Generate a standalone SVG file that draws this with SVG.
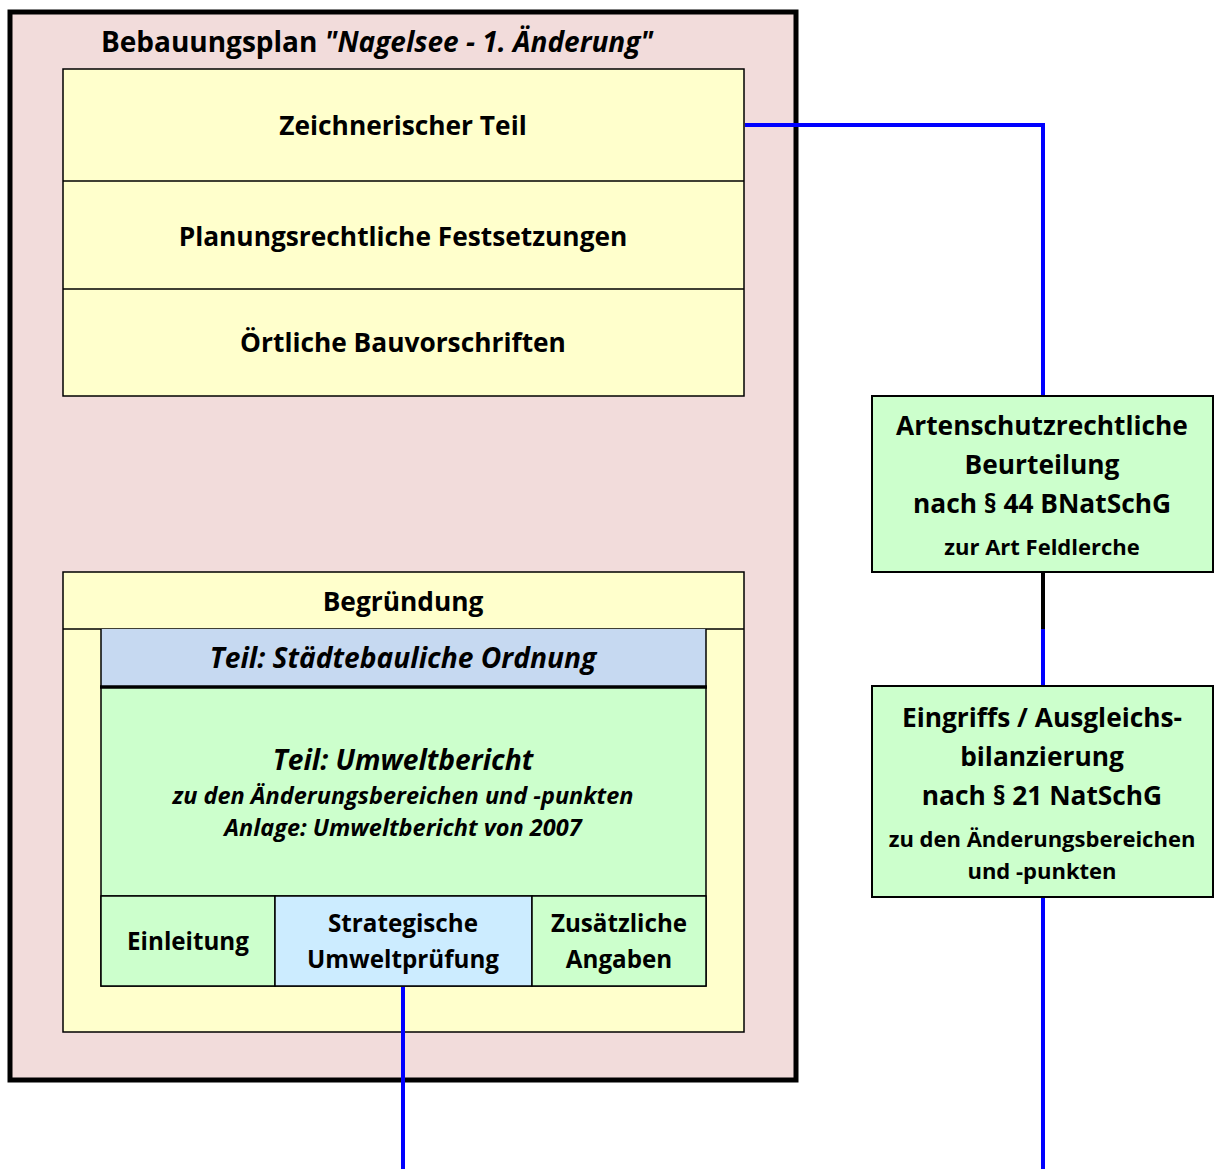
<svg xmlns="http://www.w3.org/2000/svg" width="1215" height="1169" viewBox="0 0 1215 1169">
<style>
text{font-family:"Open Sans","Noto Sans","Liberation Sans",sans-serif;font-weight:bold;text-anchor:middle;fill:#000}
.it{font-style:italic}
.big{font-size:26.3px}
.ttl{font-size:28px}
.bi{font-size:28.2px;font-style:italic}
.med{font-size:24.2px}
.sm{font-size:22px}
.smi{font-size:23.5px;font-style:italic}
.yel{fill:#FFFFCC;stroke:#000;stroke-width:1.5}
.grn{fill:#CCFFCC;stroke:#000;stroke-width:2}
.line{fill:none;stroke:#000;stroke-width:1.5}
.conn{fill:none;stroke:#0000FF;stroke-width:4}
</style>
<g id="frame">
<rect x="10" y="12" width="786" height="1068" fill="#F2DCDB" stroke="#000" stroke-width="5"/>
<text x="377" y="52" class="ttl">Bebauungsplan <tspan class="it">"Nagelsee - 1. Änderung"</tspan></text>
</g>
<g id="plan">
<rect x="63" y="69" width="681" height="327" class="yel"/>
<line x1="63" y1="181" x2="744" y2="181" class="line"/>
<line x1="63" y1="289" x2="744" y2="289" class="line"/>
</g>
<g id="zeichnerisch"><text x="403" y="135" class="big">Zeichnerischer Teil</text></g>
<g id="festsetzungen"><text x="403" y="246" class="big">Planungsrechtliche Festsetzungen</text></g>
<g id="bauvorschriften"><text x="403" y="352" class="big">Örtliche Bauvorschriften</text></g>
<g id="begruendung">
<rect x="63" y="572" width="681" height="460" class="yel"/>
<line x1="63" y1="629" x2="744" y2="629" class="line"/>
<text x="403" y="611" class="big">Begründung</text>
</g>
<g id="staedtebau">
<rect x="101" y="629" width="605" height="58" fill="#C6D9F1"/>
<line x1="101" y1="629" x2="101" y2="687" class="line"/>
<line x1="706" y1="629" x2="706" y2="687" class="line"/>
<text x="403" y="668" class="bi">Teil: Städtebauliche Ordnung</text>
</g>
<g id="umweltbericht">
<rect x="101" y="687" width="605" height="299" fill="#CCFFCC" stroke="#000" stroke-width="1.5"/>
<line x1="100" y1="687" x2="707" y2="687" stroke="#000" stroke-width="3.5"/>
<text x="403" y="770" class="bi">Teil: Umweltbericht</text>
<text x="403" y="804" class="smi">zu den Änderungsbereichen und -punkten</text>
<text x="403" y="836" class="smi">Anlage: Umweltbericht von 2007</text>
<line x1="101" y1="896" x2="706" y2="896" class="line"/>
</g>
<g id="einleitung">
<rect x="101" y="896" width="174" height="90" fill="#CCFFCC" stroke="#000" stroke-width="1.5"/>
<text x="188" y="950" class="med">Einleitung</text>
</g>
<g id="sup">
<rect x="275" y="896" width="257" height="90" fill="#CCECFF" stroke="#000" stroke-width="1.5"/>
<text x="403" y="932" class="med">Strategische</text>
<text x="403" y="968" class="med">Umweltprüfung</text>
</g>
<g id="zusaetzlich">
<rect x="532" y="896" width="174" height="90" fill="#CCFFCC" stroke="#000" stroke-width="1.5"/>
<text x="619" y="932" class="med">Zusätzliche</text>
<text x="619" y="968" class="med">Angaben</text>
</g>
<g id="artenschutz">
<rect x="872" y="396" width="341" height="176" class="grn"/>
<text x="1042" y="435" class="big">Artenschutzrechtliche</text>
<text x="1042" y="474" class="big">Beurteilung</text>
<text x="1042" y="513" class="big">nach § 44 BNatSchG</text>
<text x="1042" y="555" class="sm">zur Art Feldlerche</text>
</g>
<g id="eingriff">
<rect x="872" y="686" width="341" height="211" class="grn"/>
<text x="1042" y="727" class="big">Eingriffs / Ausgleichs-</text>
<text x="1042" y="766" class="big">bilanzierung</text>
<text x="1042" y="805" class="big">nach § 21 NatSchG</text>
<text x="1042" y="847" class="sm">zu den Änderungsbereichen</text>
<text x="1042" y="879" class="sm">und -punkten</text>
</g>
<g id="connectors">
<polyline points="745,125 1043,125 1043,395" class="conn"/>
<line x1="1043" y1="573" x2="1043" y2="629" stroke="#000" stroke-width="4"/>
<line x1="1043" y1="629" x2="1043" y2="685" class="conn"/>
<line x1="1043" y1="898" x2="1043" y2="1169" class="conn"/>
<line x1="403" y1="987" x2="403" y2="1169" class="conn"/>
</g>
</svg>
